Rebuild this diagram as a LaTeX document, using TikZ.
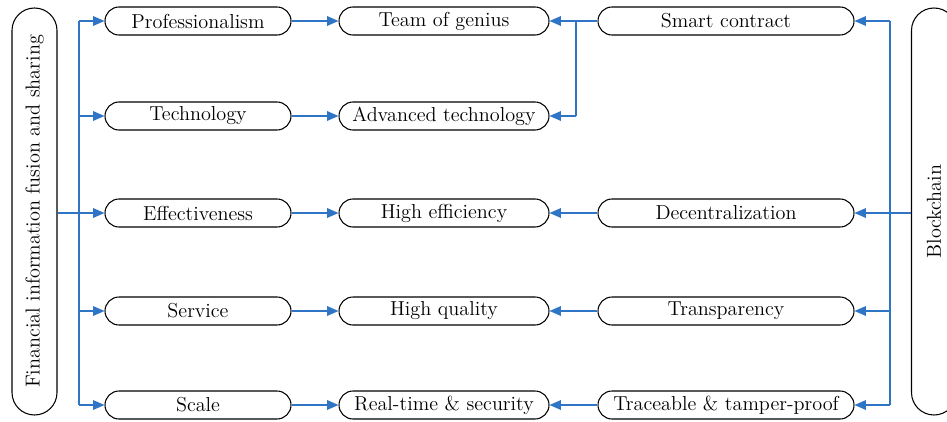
\documentclass[tikz,border=0pt]{standalone}
\usepackage{tikz}
\usetikzlibrary{arrows.meta}

\definecolor{linkblue}{RGB}{46,117,198}
\tikzset{
  pill/.style={draw,line width=0.6pt,rounded corners=0.28cm,minimum height=0.56cm,
    inner sep=0pt,font=\fontsize{11.5}{13}\selectfont},
  side/.style={draw,line width=0.6pt,rounded corners=0.45cm,rotate=90,minimum width=8.14cm,
    minimum height=0.9cm,inner sep=0pt,font=\fontsize{11.5}{13}\selectfont},
  link/.style={draw=linkblue,line width=0.7pt},
  arr/.style={link,-{Triangle[length=6.5pt,width=5.5pt]}}
}

\begin{document}
\begin{tikzpicture}
         \useasboundingbox (0,0) rectangle (18.94,8.42) ;
         % the two sides
         \node[side] (fin) at (0.69,4.19) {Financial information fusion and sharing} ;
         \node[side] (bc) at (18.68,4.19) {Blockchain} ;
         % first column
         \node[pill,minimum width=3.72cm] (pro) at (3.96,8.0) {Professionalism} ;
         \node[pill,minimum width=3.72cm] (tech) at (3.96,6.1) {Technology} ;
         \node[pill,minimum width=3.72cm] (eff) at (3.96,4.16) {Effectiveness} ;
         \node[pill,minimum width=3.72cm] (serv) at (3.96,2.2) {Service} ;
         \node[pill,minimum width=3.72cm] (scale) at (3.96,0.32) {Scale} ;
         % second column
         \node[pill,minimum width=4.2cm] (team) at (8.88,8.0) {Team of genius} ;
         \node[pill,minimum width=4.2cm] (adv) at (8.88,6.1) {Advanced technology} ;
         \node[pill,minimum width=4.2cm] (heff) at (8.88,4.16) {High efficiency} ;
         \node[pill,minimum width=4.2cm] (hqual) at (8.88,2.2) {High quality} ;
         \node[pill,minimum width=4.2cm] (rts) at (8.88,0.32) {Real-time \& security} ;
         % third column
         \node[pill,minimum width=5.12cm] (smart) at (14.52,8.0) {Smart contract} ;
         \node[pill,minimum width=5.12cm] (dec) at (14.52,4.16) {Decentralization} ;
         \node[pill,minimum width=5.12cm] (trans) at (14.52,2.2) {Transparency} ;
         \node[pill,minimum width=5.12cm] (trace) at (14.52,0.32) {Traceable \& tamper-proof} ;
         % left spine
         \coordinate (ls) at (1.58,4.16) ;
         \draw[link] (ls -| fin.south) -- (ls) ;
         \draw[link] (ls |- pro) -- (ls |- scale) ;
         \foreach \n in {pro,tech,eff,serv,scale}
            \draw[arr] (ls |- \n) -- (\n) ;
         \foreach \a/\b in {pro/team,tech/adv,eff/heff,serv/hqual,scale/rts}
            \draw[arr] (\a) -- (\b) ;
         % right spine
         \coordinate (rs) at (17.8,4.16) ;
         \draw[link] (rs -| bc.north) -- (rs) ;
         \draw[link] (rs |- smart) -- (rs |- trace) ;
         \foreach \n in {smart,dec,trans,trace}
            \draw[arr] (rs |- \n) -- (\n) ;
         \foreach \a/\b in {dec/heff,trans/hqual,trace/rts}
            \draw[arr] (\a) -- (\b) ;
         % smart contract split
         \coordinate (sj) at (11.52,8.0) ;
         \draw[link] (smart) -- (sj) -- (sj |- adv) ;
         \draw[arr] (sj) -- (team) ;
         \draw[arr] (sj |- adv) -- (adv) ;
      \end{tikzpicture}
\end{document}
